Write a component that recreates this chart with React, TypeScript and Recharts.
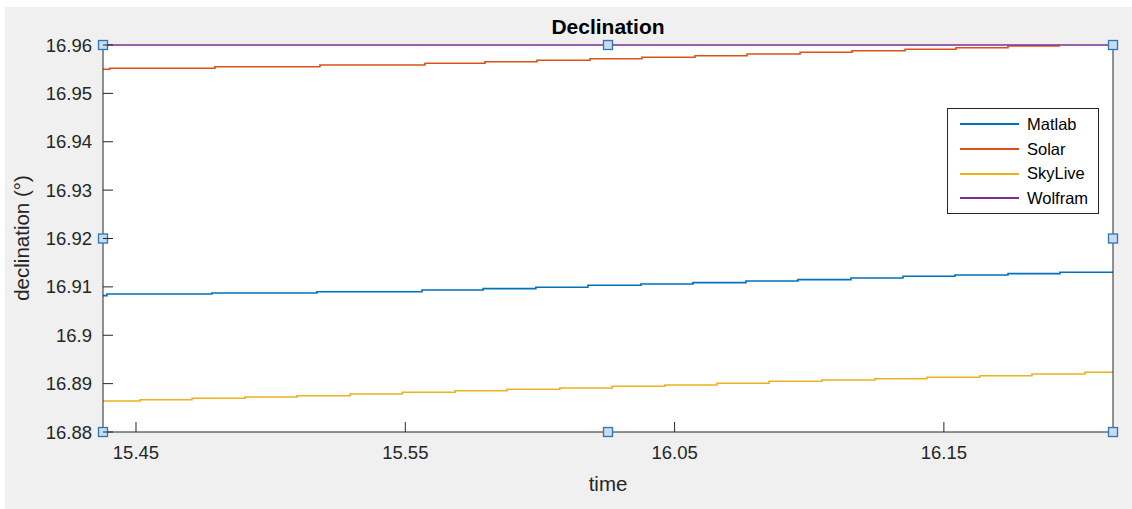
import {
  LineChart,
  Line,
  XAxis,
  YAxis,
  Legend,
  ReferenceDot,
} from "recharts";

// time axis: minutes after 15:00
const X_MIN = 43.775;
const X_MAX = 81.28;
const xTicks = [45, 55, 65, 75];
const yTicks = [16.88, 16.89, 16.9, 16.91, 16.92, 16.93, 16.94, 16.95, 16.96];

const matlabTime = [43.775, 43.92, 47.82, 51.72, 55.62, 57.89, 59.85, 61.78, 63.75, 65.68, 67.65, 69.58, 71.55, 73.48, 75.41, 77.38, 79.31, 81.28];
const matlabDec = [16.9082, 16.90853, 16.90874, 16.909, 16.90936, 16.90963, 16.90992, 16.91033, 16.9106, 16.91087, 16.91122, 16.91149, 16.91184, 16.91219, 16.91246, 16.91273, 16.91302, 16.91302];

const solarTime = [43.775, 44.03, 47.93, 51.83, 55.73, 57.96, 59.89, 61.86, 63.79, 65.76, 67.69, 69.66, 71.59, 73.56, 75.45, 77.38, 79.31];
const solarDec = [16.95498, 16.95518, 16.95551, 16.95587, 16.95622, 16.95655, 16.95684, 16.95717, 16.95746, 16.95779, 16.95814, 16.95849, 16.95882, 16.95911, 16.95944, 16.95979, 16.95979];

const skyTime = [43.775, 45.15, 47.08, 49.05, 50.98, 52.95, 54.88, 56.85, 58.78, 60.74, 62.68, 64.64, 66.57, 68.51, 70.47, 72.44, 74.37, 76.34, 78.27, 80.24, 81.28];
const skyDec = [16.88641, 16.88668, 16.88697, 16.88724, 16.8875, 16.88786, 16.88821, 16.88854, 16.88883, 16.8891, 16.88945, 16.88972, 16.89007, 16.89048, 16.89075, 16.89102, 16.89131, 16.89164, 16.89199, 16.89235, 16.89235];

const wolframTime = [43.775, 81.28];
const wolframDec = [16.96, 16.96];

const zip = (t: number[], v: number[]) => t.map((x, i) => ({ t: x, v: v[i] }));

const SERIES = [
  { name: "Matlab", color: "#0072BD", data: zip(matlabTime, matlabDec) },
  { name: "Solar", color: "#D95319", data: zip(solarTime, solarDec) },
  { name: "SkyLive", color: "#EDB120", data: zip(skyTime, skyDec) },
  { name: "Wolfram", color: "#7E2F8E", data: zip(wolframTime, wolframDec) },
];

const FONT = '"Liberation Sans", Arial, Helvetica, sans-serif';
const AXIS = "#262626";
const TICK_LEN = 10;

const fmtTime = (m: number) =>
  `${15 + Math.floor(m / 60)}.${String(m % 60).padStart(2, "0")}`;

const BottomTick = (p: any) => (
  <g>
    <line x1={p.x} y1={p.y} x2={p.x} y2={p.y - TICK_LEN} stroke={AXIS} />
    <text x={p.x} y={p.y + 27} textAnchor="middle" fill={AXIS} fontSize={18.5} fontFamily={FONT}>
      {fmtTime(p.payload.value)}
    </text>
  </g>
);

const TopTick = (p: any) => (
  <line x1={p.x} y1={p.y} x2={p.x} y2={p.y + TICK_LEN} stroke={AXIS} />
);

const LeftTick = (p: any) => (
  <g>
    <line x1={p.x} y1={p.y} x2={p.x + TICK_LEN} y2={p.y} stroke={AXIS} />
    <text x={p.x - 11} y={p.y + 6.5} textAnchor="end" fill={AXIS} fontSize={18.5} fontFamily={FONT}>
      {String(p.payload.value)}
    </text>
  </g>
);

const RightTick = (p: any) => (
  <line x1={p.x} y1={p.y} x2={p.x - TICK_LEN} y2={p.y} stroke={AXIS} />
);

const Handle = (p: any) => (
  <rect x={p.cx - 4.5} y={p.cy - 4.5} width={9} height={9} fill="#c6dcf1" stroke="#2f74b5" strokeWidth={1.3} />
);

const LegendBox = () => (
  <div
    style={{
      width: 150,
      height: 101,
      background: "#fff",
      border: `1px solid ${AXIS}`,
      fontFamily: FONT,
      fontSize: 16.5,
      color: "#000",
      boxSizing: "content-box",
      paddingTop: 3,
    }}
  >
    {SERIES.map((s) => (
      <div key={s.name} style={{ display: "flex", alignItems: "center", height: 24.7 }}>
        <div style={{ width: 59, height: 2, background: s.color, marginLeft: 12, marginRight: 8 }} />
        <span>{s.name}</span>
      </div>
    ))}
  </div>
);

const handleXs = [X_MIN, (X_MIN + X_MAX) / 2, X_MAX];
const handleYs = [16.88, 16.92, 16.96];

export default function App() {
  return (
    <div style={{ position: "relative", width: 1132, height: 509, background: "#fff" }}>
      <style>{"body{margin:0}"}</style>
      <div style={{ position: "absolute", left: 5, top: 7, right: 0, bottom: 0, background: "#f0f0f0" }} />
      <div style={{ position: "absolute", left: 103, top: 45, width: 1010, height: 387, background: "#fff" }} />
      <div style={{ position: "absolute", left: 0, top: 0 }}>
        <LineChart width={1132} height={509} margin={{ top: 44, right: 18, bottom: 76, left: 102 }}>
          <XAxis
            dataKey="t"
            type="number"
            domain={[X_MIN, X_MAX]}
            ticks={xTicks}
            height={1}
            tickSize={0}
            tickMargin={0}
            tick={<BottomTick />}
            stroke={AXIS}
            interval={0}
          />
          <XAxis
            xAxisId="top"
            orientation="top"
            dataKey="t"
            type="number"
            domain={[X_MIN, X_MAX]}
            ticks={xTicks}
            height={1}
            tickSize={0}
            tickMargin={0}
            tick={<TopTick />}
            axisLine={false}
            interval={0}
          />
          <YAxis
            type="number"
            domain={[16.88, 16.96]}
            ticks={yTicks}
            width={1}
            tickSize={0}
            tickMargin={0}
            tick={<LeftTick />}
            stroke={AXIS}
            interval={0}
          />
          <YAxis
            yAxisId="right"
            orientation="right"
            type="number"
            domain={[16.88, 16.96]}
            ticks={yTicks}
            width={1}
            tickSize={0}
            tickMargin={0}
            tick={<RightTick />}
            stroke={AXIS}
            interval={0}
          />
          {SERIES.map((s) => (
            <Line
              key={s.name}
              data={s.data}
              dataKey="v"
              name={s.name}
              type="stepAfter"
              stroke={s.color}
              strokeWidth={1.6}
              dot={false}
              activeDot={false}
              isAnimationActive={false}
            />
          ))}
          {handleXs.flatMap((x) =>
            handleYs
              .filter((y) => !(x !== X_MIN && x !== X_MAX && y === 16.92))
              .map((y) => (
                <ReferenceDot key={`${x}-${y}`} x={x} y={y} r={4} shape={<Handle />} ifOverflow="visible" />
              ))
          )}
          <Legend
            layout="vertical"
            align="center"
            verticalAlign="middle"
            content={<LegendBox />}
            wrapperStyle={{ position: "absolute", left: 947, top: 108, width: "auto" }}
          />
          <text x={608} y={34} textAnchor="middle" fontSize={21} fontWeight="bold" fill="#000" fontFamily={FONT}>
            Declination
          </text>
          <text x={608} y={491} textAnchor="middle" fontSize={20.5} fill={AXIS} fontFamily={FONT}>
            time
          </text>
          <text
            x={29}
            y={238}
            textAnchor="middle"
            fontSize={20.5}
            fill={AXIS}
            fontFamily={FONT}
            transform="rotate(-90 29 238)"
          >
            declination (°)
          </text>
        </LineChart>
      </div>
    </div>
  );
}
